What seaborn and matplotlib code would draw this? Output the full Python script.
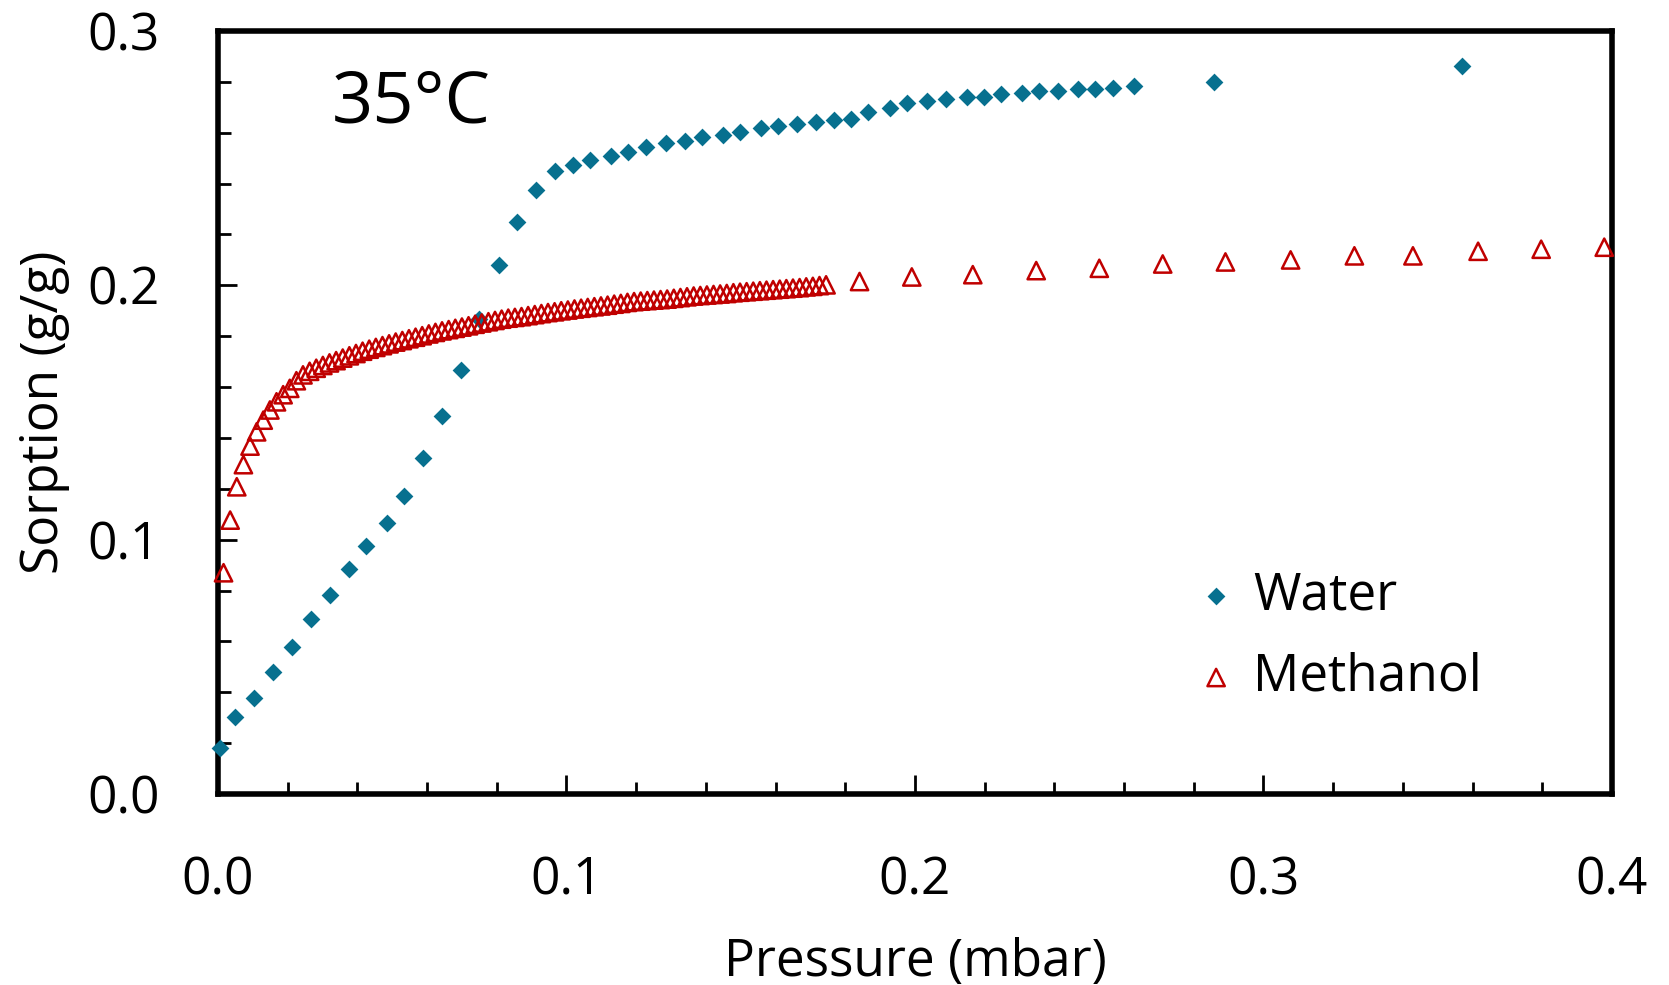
import matplotlib
matplotlib.use("Agg")
import matplotlib.pyplot as plt
import seaborn as sns
from matplotlib.ticker import MultipleLocator, FormatStrFormatter

# ---------------- data ----------------
water_p = [0.0006, 0.0049, 0.0104, 0.0159, 0.0213, 0.0267, 0.0322, 0.0376, 0.0424, 0.0485,
           0.0533, 0.0587, 0.0642, 0.0696, 0.0750, 0.0805, 0.0858, 0.0913, 0.0968, 0.1020,
           0.1068, 0.1129, 0.1177, 0.1228, 0.1287, 0.1341, 0.1389, 0.1448, 0.1498, 0.1558,
           0.1606, 0.1661, 0.1715, 0.1769, 0.1817, 0.1865, 0.1927, 0.1977, 0.2036, 0.2089,
           0.2149, 0.2197, 0.2248, 0.2307, 0.2355, 0.2411, 0.2469, 0.2516, 0.2569, 0.2629,
           0.2858, 0.3570]
water_s = [0.0182, 0.0304, 0.0379, 0.0480, 0.0579, 0.0687, 0.0784, 0.0884, 0.0975, 0.1064,
           0.1173, 0.1321, 0.1486, 0.1667, 0.1869, 0.2080, 0.2250, 0.2374, 0.2451, 0.2473,
           0.2492, 0.2508, 0.2525, 0.2543, 0.2559, 0.2567, 0.2584, 0.2593, 0.2602, 0.2618,
           0.2626, 0.2635, 0.2641, 0.2649, 0.2655, 0.2683, 0.2699, 0.2716, 0.2724, 0.2732,
           0.2740, 0.2741, 0.2752, 0.2757, 0.2766, 0.2766, 0.2773, 0.2773, 0.2776, 0.2785,
           0.2801, 0.2863]

methanol_p = [0.0016, 0.0035, 0.0054, 0.0073, 0.0092, 0.0111, 0.0130, 0.0149, 0.0168, 0.0187,
              0.0206, 0.0225, 0.0244, 0.0263, 0.0282, 0.0301, 0.0320, 0.0339, 0.0358, 0.0377,
              0.0396, 0.0415, 0.0434, 0.0453, 0.0472, 0.0491, 0.0510, 0.0529, 0.0548, 0.0567,
              0.0586, 0.0605, 0.0624, 0.0643, 0.0662, 0.0681, 0.0700, 0.0719, 0.0738, 0.0757,
              0.0776, 0.0795, 0.0814, 0.0833, 0.0852, 0.0871, 0.0890, 0.0909, 0.0928, 0.0947,
              0.0966, 0.0985, 0.1004, 0.1023, 0.1042, 0.1061, 0.1080, 0.1099, 0.1118, 0.1137,
              0.1156, 0.1175, 0.1194, 0.1213, 0.1232, 0.1251, 0.1270, 0.1289, 0.1308, 0.1327,
              0.1346, 0.1365, 0.1384, 0.1403, 0.1422, 0.1441, 0.1460, 0.1479, 0.1498, 0.1517,
              0.1536, 0.1555, 0.1574, 0.1593, 0.1612, 0.1631, 0.1650, 0.1669, 0.1688, 0.1707,
              0.1726, 0.1745,
              0.1841, 0.1991, 0.2166, 0.2348, 0.2529, 0.2711, 0.2891, 0.3078, 0.3261, 0.3429,
              0.3616, 0.3797, 0.3978]
methanol_s = [0.0870, 0.1077, 0.1208, 0.1295, 0.1368, 0.1424, 0.1470, 0.1510, 0.1542, 0.1570,
              0.1595, 0.1625, 0.1648, 0.1662, 0.1674, 0.1685, 0.1695, 0.1704, 0.1714, 0.1723,
              0.1732, 0.1741, 0.1749, 0.1756, 0.1763, 0.1770, 0.1777, 0.1783, 0.1790, 0.1796,
              0.1802, 0.1809, 0.1815, 0.1821, 0.1826, 0.1831, 0.1836, 0.1841, 0.1847, 0.1852,
              0.1857, 0.1862, 0.1867, 0.1871, 0.1874, 0.1877, 0.1881, 0.1885, 0.1889, 0.1893,
              0.1896, 0.1900, 0.1903, 0.1907, 0.1910, 0.1913, 0.1916, 0.1919, 0.1922, 0.1926,
              0.1929, 0.1933, 0.1936, 0.1938, 0.1940, 0.1942, 0.1944, 0.1946, 0.1949, 0.1952,
              0.1955, 0.1958, 0.1960, 0.1962, 0.1964, 0.1966, 0.1968, 0.1971, 0.1973, 0.1975,
              0.1977, 0.1979, 0.1981, 0.1983, 0.1985, 0.1987, 0.1989, 0.1991, 0.1994, 0.1996,
              0.1999, 0.2002,
              0.2015, 0.2033, 0.2042, 0.2058, 0.2067, 0.2084, 0.2092, 0.2100, 0.2116, 0.2116,
              0.2134, 0.2142, 0.2150]

series_labels = ["Water", "Methanol"]
annotation = "35°C"
x_label = "Pressure (mbar)"
y_label = "Sorption (g/g)"

# ---------------- style ----------------
sns.set_theme(style="white")
plt.rcParams["font.family"] = ["Open Sans", "DejaVu Sans"]

WATER_C = "#07708F"
METH_C = "#C00000"
FS = 37

fig = plt.figure(figsize=(16.69, 9.85), dpi=100)
ax = fig.add_axes([0.1306, 0.1939, 0.8352, 0.7746])

sns.scatterplot(x=water_p, y=water_s, ax=ax, marker="D", s=82, color=WATER_C,
                linewidth=0, label=series_labels[0], clip_on=False, zorder=3)
sns.scatterplot(x=methanol_p, y=methanol_s, ax=ax, marker="^", s=155, color=METH_C,
                facecolor="none", edgecolor=METH_C, linewidth=1.8,
                label=series_labels[1], clip_on=False, zorder=3)

ax.set_xlim(0, 0.4)
ax.set_ylim(0, 0.3)
ax.xaxis.set_major_locator(MultipleLocator(0.1))
ax.xaxis.set_minor_locator(MultipleLocator(0.02))
ax.yaxis.set_major_locator(MultipleLocator(0.1))
ax.yaxis.set_minor_locator(MultipleLocator(0.02))
ax.xaxis.set_major_formatter(FormatStrFormatter("%.1f"))
ax.yaxis.set_major_formatter(FormatStrFormatter("%.1f"))

for sp in ax.spines.values():
    sp.set_visible(True)
    sp.set_color("black")
    sp.set_linewidth(4)

ax.tick_params(axis="both", which="both", direction="in", top=False, right=False,
               bottom=True, left=True, colors="black", labelcolor="black")
ax.tick_params(axis="both", which="major", length=14, width=2, labelsize=FS)
ax.tick_params(axis="both", which="minor", length=9, width=2)
ax.tick_params(axis="x", which="major", pad=44)
ax.tick_params(axis="y", which="major", pad=42)

ax.set_xlabel(x_label, fontsize=FS, labelpad=22, color="black")
ax.set_ylabel(y_label, fontsize=FS, labelpad=12, color="black")

ax.text(0.0818, 0.8807, annotation, transform=ax.transAxes, fontsize=52,
        ha="left", va="baseline", color="black")

leg = ax.legend(loc="center left", bbox_to_anchor=(0.705, 0.206), frameon=False,
                fontsize=FS, handlelength=0.6, handletextpad=0.42, labelspacing=0.59,
                borderpad=0, borderaxespad=0, markerscale=1.0)
for t in leg.get_texts():
    t.set_color("black")

fig.savefig("out.png", dpi=100)
